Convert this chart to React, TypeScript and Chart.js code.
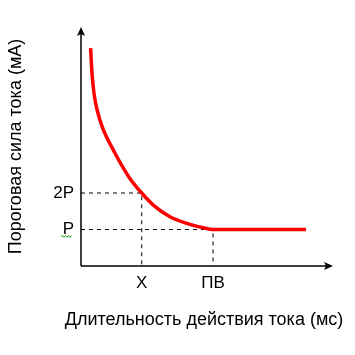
import React, { useEffect, useRef } from 'react';
import { Chart, registerables } from 'chart.js';

Chart.register(...registerables);

// Strength–duration curve
const curveX = [0.38, 0.44, 0.52, 0.65, 0.85, 1.28, 1.94, 2.41, 2.87, 3.53, 4.19, 4.85, 5.24, 8.93];
const curveY = [5.97, 5.26, 4.71, 4.25, 3.80, 3.18, 2.40, 2.00, 1.67, 1.35, 1.17, 1.05, 1.00, 1.00];

const pValue = 1;
const twoPValue = 2;
const xMarkValue = 2.41; // "X"
const pvMarkValue = 5.24; // "ПВ"

const yTickValues = [pValue, twoPValue];
const yTickLabels = ['P', '2P'];
const xTickValues = [xMarkValue, pvMarkValue];
const xTickLabels = ['X', 'ПВ'];

const xMax = 10;
const yMax = 6.55;

const xTitle = 'Длительность действия тока (мс)';
const yTitle = 'Пороговая сила тока (мА)';

const FONT = '"Liberation Sans", Arial, sans-serif';

const arrowAxesPlugin = {
  id: 'arrowAxes',
  afterDatasetsDraw(chart: any) {
    const { ctx, chartArea } = chart;
    const { left, right, top, bottom } = chartArea;
    ctx.save();
    ctx.strokeStyle = '#000';
    ctx.fillStyle = '#000';
    ctx.lineWidth = 1.5;
    ctx.beginPath();
    ctx.moveTo(left, bottom);
    ctx.lineTo(left, top + 6);
    ctx.moveTo(left, bottom);
    ctx.lineTo(right - 6, bottom);
    ctx.stroke();
    // arrow heads
    ctx.beginPath();
    ctx.moveTo(left, top);
    ctx.lineTo(left - 4, top + 9);
    ctx.lineTo(left, top + 7);
    ctx.lineTo(left + 4, top + 9);
    ctx.closePath();
    ctx.fill();
    ctx.beginPath();
    ctx.moveTo(right, bottom);
    ctx.lineTo(right - 9, bottom - 4);
    ctx.lineTo(right - 7, bottom);
    ctx.lineTo(right - 9, bottom + 4);
    ctx.closePath();
    ctx.fill();
    // green wavy underline under "P"
    const yScale = chart.scales.y;
    const py = yScale.getPixelForValue(pValue) + 7;
    ctx.strokeStyle = '#2e9a2e';
    ctx.lineWidth = 1;
    ctx.beginPath();
    const x0 = left - 20;
    ctx.moveTo(x0, py);
    let up = true;
    for (let x = x0 + 1.5; x <= left - 9; x += 1.5) {
      ctx.lineTo(x, py + (up ? -1 : 1));
      up = !up;
    }
    ctx.stroke();
    // x-axis title (drawn here so it is not squeezed to the chart-area width)
    ctx.fillStyle = '#000';
    ctx.font = `18px ${FONT}`;
    ctx.textAlign = 'center';
    ctx.textBaseline = 'middle';
    ctx.fillText(xTitle, (left + right) / 2 - 3, bottom + 54);
    ctx.restore();
  },
};

export default function App() {
  const canvasRef = useRef<HTMLCanvasElement | null>(null);

  useEffect(() => {
    if (!canvasRef.current) return;
    const curveData = curveX.map((x, i) => ({ x, y: curveY[i] }));
    const dash2P = [
      { x: 0, y: twoPValue },
      { x: xMarkValue, y: twoPValue },
      { x: xMarkValue, y: 0 },
    ];
    const dashP = [
      { x: 0, y: pValue },
      { x: pvMarkValue, y: pValue },
      { x: pvMarkValue, y: 0 },
    ];
    const chart = new Chart(canvasRef.current, {
      type: 'line',
      data: {
        datasets: [
          {
            data: curveData,
            borderColor: '#ff0000',
            borderWidth: 3.5,
            pointRadius: 0,
            cubicInterpolationMode: 'monotone',
            fill: false,
          },
          {
            data: dash2P,
            borderColor: '#000',
            borderWidth: 1,
            borderDash: [4, 4],
            pointRadius: 0,
            tension: 0,
            fill: false,
          },
          {
            data: dashP,
            borderColor: '#000',
            borderWidth: 1,
            borderDash: [4, 4],
            pointRadius: 0,
            tension: 0,
            fill: false,
          },
        ],
      },
      options: {
        animation: false,
        responsive: false,
        devicePixelRatio: 1,
        layout: { padding: { top: 27, right: 22, left: 0, bottom: 0 } },
        plugins: { legend: { display: false }, tooltip: { enabled: false } },
        scales: {
          x: {
            type: 'linear',
            min: 0,
            max: xMax,
            grid: { display: false, drawTicks: false },
            border: { display: false },
            afterBuildTicks: (scale: any) => {
              scale.ticks = xTickValues.map((v) => ({ value: v }));
            },
            afterFit: (scale: any) => {
              scale.height = 89;
            },
            ticks: {
              autoSkip: false,
              maxRotation: 0,
              padding: 7,
              color: '#000',
              font: { family: FONT, size: 17 },
              callback: (value: any) => {
                const i = xTickValues.indexOf(Number(value));
                return i >= 0 ? xTickLabels[i] : '';
              },
            },
            title: { display: false },
          },
          y: {
            type: 'linear',
            min: 0,
            max: yMax,
            grid: { display: false, drawTicks: false },
            border: { display: false },
            afterBuildTicks: (scale: any) => {
              scale.ticks = yTickValues.map((v) => ({ value: v }));
            },
            afterFit: (scale: any) => {
              scale.width = 81;
            },
            ticks: {
              autoSkip: false,
              padding: 7,
              color: '#000',
              font: { family: FONT, size: 17 },
              callback: (value: any) => {
                const i = yTickValues.indexOf(Number(value));
                return i >= 0 ? yTickLabels[i] : '';
              },
            },
            title: {
              display: true,
              text: yTitle,
              color: '#000',
              font: { family: FONT, size: 18 },
              padding: { top: 5, bottom: 0 },
            },
          },
        },
      },
      plugins: [arrowAxesPlugin],
    } as any);
    return () => chart.destroy();
  }, []);

  return (
    <div style={{ position: 'fixed', left: 0, top: 0, width: 355, height: 355, background: '#fff' }}>
      <canvas ref={canvasRef} width={355} height={355} style={{ display: 'block' }} />
    </div>
  );
}
